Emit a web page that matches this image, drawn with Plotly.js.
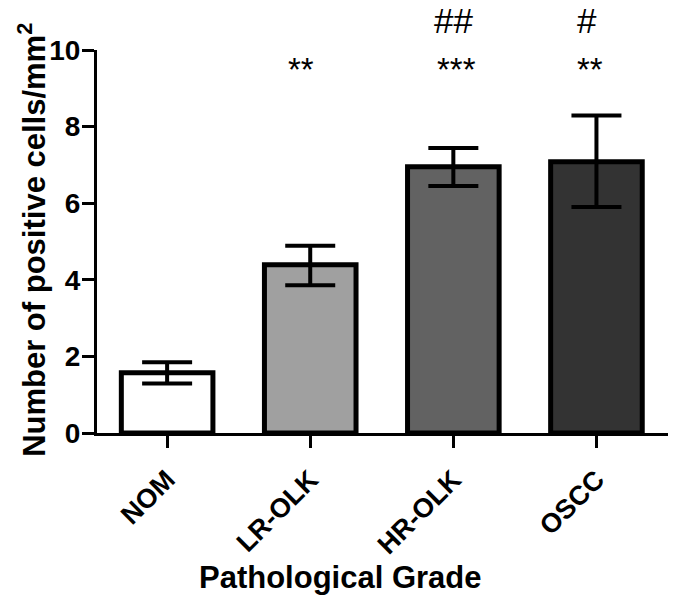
<!DOCTYPE html>
<html><head><meta charset="utf-8">
<script src="https://cdn.plot.ly/plotly-3.0.1.min.js"></script>
<style>html,body{margin:0;padding:0;background:#fff}#chart{width:678px;height:601px}</style>
</head><body><div id="chart"></div>
<script>
const categories = ["NOM", "LR-OLK", "HR-OLK", "OSCC"];
const means = [1.57, 4.39, 6.95, 7.08];
const errUpper = [0.28, 0.50, 0.49, 1.21];
const errLower = [0.28, 0.53, 0.50, 1.18];
const barColors = ["#ffffff", "#a0a0a0", "#626262", "#333333"];
const starLabels = ["", "**", "***", "**"];
const hashLabels = ["", "", "##", "#"];
const xTitle = "Pathological Grade";
const yTitle = "Number of positive cells/mm<sup>2</sup>";

const font = "Arial, 'Liberation Sans', sans-serif";

const trace = {
  type: "bar",
  x: categories,
  y: means,
  width: 0.64,
  marker: {color: barColors, line: {color: "#000", width: 5}},
  error_y: {type: "data", symmetric: false, array: errUpper, arrayminus: errLower,
            color: "#000", thickness: 4, width: 25},
  hoverinfo: "none"
};

function mark(i, txt, y, size, xshift) {
  return {x: categories[i], y: y, xref: "x", yref: "paper", text: txt, xshift: xshift,
    showarrow: false, xanchor: "center", yanchor: "middle",
    font: {family: font, size: size, color: "#000"}};
}

const annotations = [
  mark(1, starLabels[1], 0.948, 33, -9),
  mark(2, starLabels[2], 0.948, 33, 3),
  mark(3, starLabels[3], 0.948, 33, -6),
  mark(2, hashLabels[2], 1.076, 35, 0),
  mark(3, hashLabels[3], 1.076, 35, -9),
  {x: 0.427, y: -0.376, xref: "paper", yref: "paper", text: xTitle, showarrow: false,
   xanchor: "center", yanchor: "middle",
   font: {family: font, size: 31, color: "#000", weight: "bold"}},
  {x: -0.114, y: 0.504, xref: "paper", yref: "paper", text: yTitle, showarrow: false,
   textangle: -90, xanchor: "center", yanchor: "middle",
   font: {family: font, size: 31, color: "#000", weight: "bold"}}
];

const layout = {
  width: 678, height: 601,
  margin: {l: 97, r: 10, t: 50, b: 168},
  paper_bgcolor: "#fff", plot_bgcolor: "#fff",
  showlegend: false,
  xaxis: {
    range: [-0.49, 3.5], showgrid: false, zeroline: false,
    showline: true, linecolor: "#000", linewidth: 3,
    ticks: "outside", ticklen: 12, tickwidth: 3, tickcolor: "#000",
    tickangle: -45, ticklabelstandoff: 5,
    tickfont: {family: font, size: 27, color: "#000", weight: "bold"}
  },
  yaxis: {
    range: [0, 10], tickvals: [0, 2, 4, 6, 8, 10], showgrid: false, zeroline: false,
    showline: true, linecolor: "#000", linewidth: 3,
    ticks: "outside", ticklen: 12, tickwidth: 3, tickcolor: "#000",
    ticklabelstandoff: -4,
    tickfont: {family: font, size: 28, color: "#000", weight: "bold"}
  },
  annotations: annotations
};

Plotly.newPlot("chart", [trace], layout, {displayModeBar: false, staticPlot: true});
</script>
</body></html>
